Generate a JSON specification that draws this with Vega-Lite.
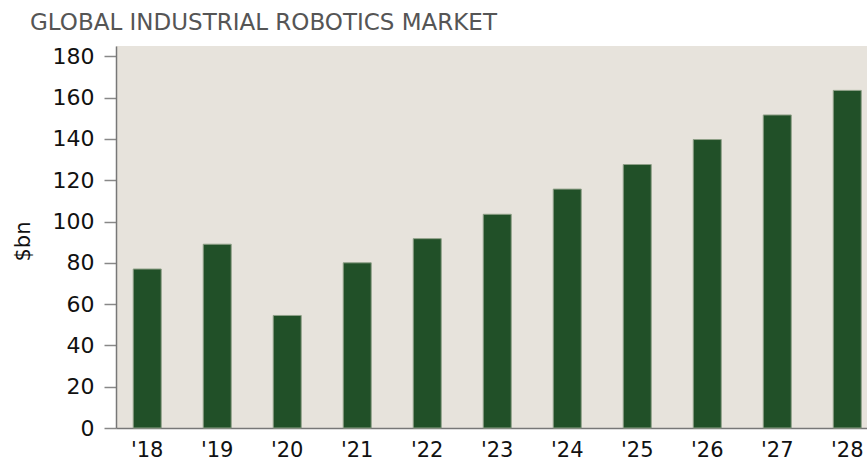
{
  "$schema": "https://vega.github.io/schema/vega-lite/v6.json",
  "width": 751,
  "height": 382,
  "autosize": {"type": "none"},
  "padding": {"left": 116, "top": 46, "right": 0, "bottom": 33},
  "background": "white",
  "title": {
    "text": "GLOBAL INDUSTRIAL ROBOTICS MARKET",
    "anchor": "start",
    "frame": "group",
    "dx": -86,
    "dy": 24,
    "offset": 16,
    "baseline": "alphabetic",
    "font": "DejaVu Sans",
    "fontSize": 23,
    "fontWeight": "normal",
    "color": "#555555"
  },
  "data": {
    "values": [
      {"year": "'18", "value": 77},
      {"year": "'19", "value": 89},
      {"year": "'20", "value": 54.5},
      {"year": "'21", "value": 80},
      {"year": "'22", "value": 91.7},
      {"year": "'23", "value": 103.5},
      {"year": "'24", "value": 115.7},
      {"year": "'25", "value": 127.6},
      {"year": "'26", "value": 139.7},
      {"year": "'27", "value": 151.6},
      {"year": "'28", "value": 163.5}
    ]
  },
  "mark": {"type": "bar", "color": "#215028", "stroke": "#8fa088", "strokeWidth": 1},
  "encoding": {
    "x": {
      "field": "year",
      "type": "nominal",
      "sort": null,
      "scale": {"paddingInner": 0.6, "paddingOuter": 0.164, "align": 0.75},
      "axis": {
        "title": null,
        "labelAngle": 0,
        "ticks": false,
        "labelPadding": 11,
        "labelFontSize": 21,
        "labelFont": "DejaVu Sans",
        "labelColor": "#111111",
        "domainColor": "#777777",
        "domainWidth": 1.5
      }
    },
    "y": {
      "field": "value",
      "type": "quantitative",
      "scale": {"domain": [0, 185], "nice": false},
      "axis": {
        "title": "$bn",
        "values": [0, 20, 40, 60, 80, 100, 120, 140, 160, 180],
        "grid": false,
        "tickSize": 12,
        "tickColor": "#888888",
        "tickWidth": 1.5,
        "domainColor": "#777777",
        "domainWidth": 1.5,
        "labelPadding": 10,
        "labelFontSize": 22,
        "labelFont": "DejaVu Sans",
        "labelColor": "#111111",
        "titleFont": "DejaVu Sans",
        "titleFontSize": 21,
        "titleFontWeight": "normal",
        "titleColor": "#111111",
        "titleAngle": -90,
        "titleX": -93,
        "titleY": 195,
        "titleAlign": "center",
        "titleBaseline": "middle"
      }
    }
  },
  "config": {
    "view": {"fill": "#e7e3dc", "stroke": null}
  }
}
